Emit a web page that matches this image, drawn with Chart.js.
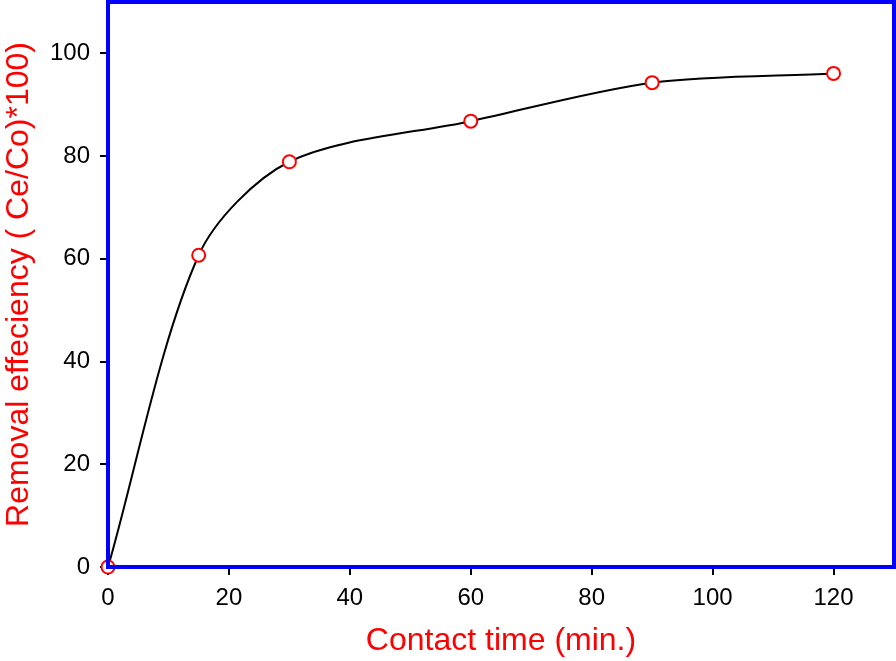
<!DOCTYPE html>
<html>
<head>
<meta charset="utf-8">
<script src="https://cdn.jsdelivr.net/npm/chart.js@4/dist/chart.umd.min.js"></script>
<style>
  html, body { margin: 0; padding: 0; background: #fff; }
  #wrap { width: 896px; height: 661px; position: relative; }
</style>
</head>
<body>
<div id="wrap"><canvas id="chart"></canvas></div>
<script>
// data
const contactTime = [0, 15, 30, 60, 90, 120];
const removalEff = [0, 60.7, 78.9, 86.8, 94.3, 96.1];
const xTicks = [0, 20, 40, 60, 80, 100, 120];
const yTicks = [0, 20, 40, 60, 80, 100];

const points = contactTime.map((x, i) => ({ x, y: removalEff[i] }));
const FONT = 'Liberation Sans, Arial, sans-serif';

// blue frame round the plot area
const framePlugin = {
  id: 'frame',
  afterDatasetsDraw(chart){
    const { ctx, chartArea: a } = chart;
    ctx.save();
    ctx.strokeStyle = '#0000ff';
    ctx.lineWidth = 4;
    ctx.strokeRect(a.left, a.top, a.right - a.left, a.bottom - a.top);
    ctx.restore();
  }
};

new Chart(document.getElementById('chart'), {
  type: 'line',
  data: {
    datasets: [{
      data: points,
      borderColor: '#000',
      borderWidth: 2,
      tension: 0.3,
      pointRadius: 6.5,
      pointBorderWidth: 2,
      pointBorderColor: '#ff0000',
      pointBackgroundColor: '#fff',
      clip: false
    }]
  },
  options: {
    responsive: true,
    maintainAspectRatio: false,
    animation: false,
    layout: { autoPadding: false, padding: { top: 2, right: 2, left: 0, bottom: 0 } },
    plugins: { legend: { display: false }, tooltip: { enabled: false } },
    scales: {
      x: {
        type: 'linear', min: 0, max: 130,
        afterBuildTicks: s => { s.ticks = xTicks.map(v => ({ value: v })); },
        afterFit: s => { s.height = 94; s.paddingLeft = 0; s.paddingRight = 0; },
        grid: { drawOnChartArea: false, tickLength: 8, color: '#000', lineWidth: 2 },
        border: { display: false },
        ticks: { color: '#000', font: { family: FONT, size: 24 }, padding: 9, maxRotation: 0 },
        title: { display: true, text: 'Contact time (min.)', color: '#ff0000',
                 font: { family: FONT, size: 32 }, padding: { top: 0, bottom: 1 } }
      },
      y: {
        type: 'linear', min: 0, max: 110,
        afterBuildTicks: s => { s.ticks = yTicks.map(v => ({ value: v })); },
        afterFit: s => { s.width = 108; s.paddingTop = 0; s.paddingBottom = 0; },
        grid: { drawOnChartArea: false, tickLength: 8, color: '#000', lineWidth: 2 },
        border: { display: false },
        ticks: { color: '#000', font: { family: FONT, size: 24 }, padding: 10 },
        title: { display: true, text: 'Removal effeciency ( Ce/Co)*100)', color: '#ff0000',
                 font: { family: FONT, size: 32 }, padding: { top: 0, bottom: 0 } }
      }
    }
  },
  plugins: [framePlugin]
});
</script>
</body>
</html>
